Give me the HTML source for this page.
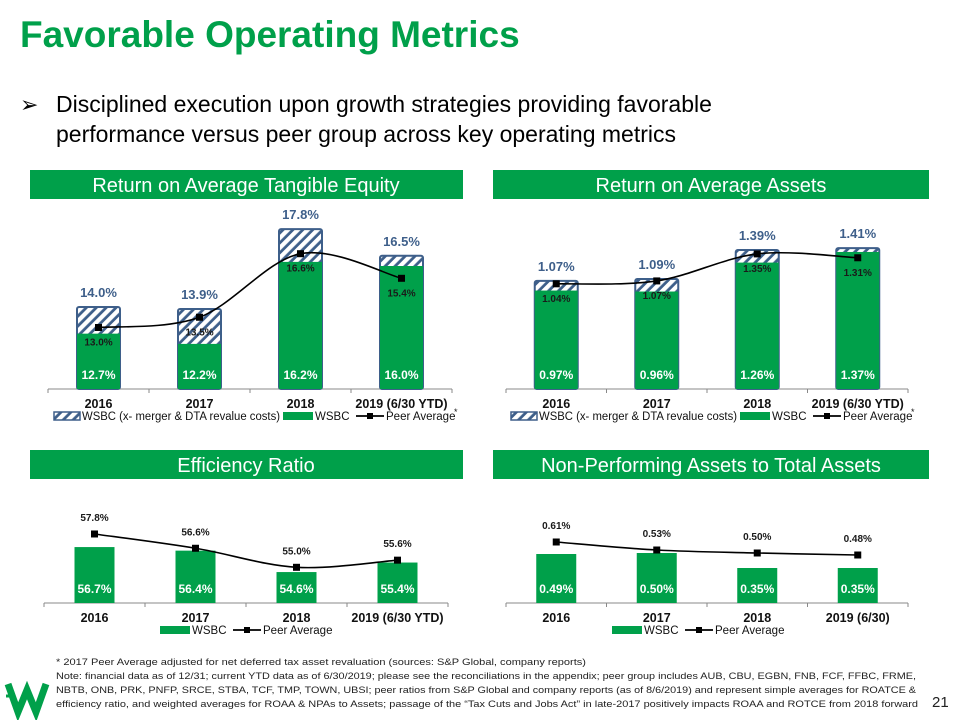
<!DOCTYPE html>
<html><head><meta charset="utf-8">
<style>
body{margin:0;background:#fff;}
#root{position:relative;width:960px;height:720px;overflow:hidden;font-family:"Liberation Sans",Arial,sans-serif;}
</style></head>
<body>
<div id="root">
<svg id="svg" width="960" height="720" xmlns="http://www.w3.org/2000/svg" font-family="Liberation Sans, Arial, sans-serif">
<defs>
<pattern id="hatch" patternUnits="userSpaceOnUse" width="7" height="7" patternTransform="rotate(45)">
<rect width="7" height="7" fill="#3E5F8A"/>
<rect width="4.2" height="7" fill="#fff"/>
</pattern>
</defs>
<text x="20" y="47" font-size="37" font-weight="bold" fill="#00A04A">Favorable Operating Metrics</text>
<text x="20" y="112" font-size="22" fill="#000">➢</text>
<text x="56" y="112" font-size="23" fill="#000">Disciplined execution upon growth strategies providing favorable</text>
<text x="56" y="142" font-size="23" fill="#000">performance versus peer group across key operating metrics</text>

<rect x="30" y="170" width="433" height="29" fill="#00A04A"/>
<text x="246" y="192" font-size="20" fill="#fff" text-anchor="middle">Return on Average Tangible Equity</text>
<rect x="493" y="170" width="436" height="29" fill="#00A04A"/>
<text x="711" y="192" font-size="20" fill="#fff" text-anchor="middle">Return on Average Assets</text>
<rect x="30" y="450" width="433" height="29" fill="#00A04A"/>
<text x="246" y="472" font-size="20" fill="#fff" text-anchor="middle">Efficiency Ratio</text>
<rect x="493" y="450" width="436" height="29" fill="#00A04A"/>
<text x="711" y="472" font-size="20" fill="#fff" text-anchor="middle">Non-Performing Assets to Total Assets</text>

<g id="charts"></g>

<g font-size="9.5" fill="#222">
<text x="56" y="665" textLength="530" lengthAdjust="spacingAndGlyphs">* 2017 Peer Average adjusted for net deferred tax asset revaluation (sources: S&amp;P Global, company reports)</text>
<text x="56" y="679" textLength="860" lengthAdjust="spacingAndGlyphs">Note: financial data as of 12/31; current YTD data as of 6/30/2019; please see the reconciliations in the appendix; peer group includes AUB, CBU, EGBN, FNB, FCF, FFBC, FRME,</text>
<text x="56" y="693" textLength="860" lengthAdjust="spacingAndGlyphs">NBTB, ONB, PRK, PNFP, SRCE, STBA, TCF, TMP, TOWN, UBSI; peer ratios from S&amp;P Global and company reports (as of 8/6/2019) and represent simple averages for ROATCE &amp;</text>
<text x="56" y="707" textLength="862" lengthAdjust="spacingAndGlyphs">efficiency ratio, and weighted averages for ROAA &amp; NPAs to Assets; passage of the “Tax Cuts and Jobs Act” in late-2017 positively impacts ROAA and ROTCE from 2018 forward</text>
</g>
<text x="932" y="707" font-size="15" fill="#222">21</text>
<g>
<polyline points="8,684 18,712 27,690 36,712 46,684" fill="none" stroke="#00A04A" stroke-width="7" stroke-linejoin="miter"/>
<polyline points="6,696 12,696" stroke="#00A04A" stroke-width="3"/>
</g>
</svg>
</div>
<script>
const cats1 = ["2016","2017","2018","2019 (6/30 YTD)"];
const roateAdj = [14.0,13.9,17.8,16.5];
const roateWsbc = [12.7,12.2,16.2,16.0];
const roatePeer = [13.0,13.5,16.6,15.4];
const roaaAdj = [1.07,1.09,1.39,1.41];
const roaaWsbc = [0.97,0.96,1.26,1.37];
const roaaPeer = [1.04,1.07,1.35,1.31];
const effWsbc = [56.7,56.4,54.6,55.4];
const effPeer = [57.8,56.6,55.0,55.6];
const cats4 = ["2016","2017","2018","2019 (6/30)"];
const npaWsbc = [0.49,0.50,0.35,0.35];
const npaPeer = [0.61,0.53,0.50,0.48];

const NS="http://www.w3.org/2000/svg";
const G=document.getElementById('charts');
function mk(tag,attrs,parent,txt){const e=document.createElementNS(NS,tag);for(const k in attrs)e.setAttribute(k,attrs[k]);if(txt!==undefined)e.textContent=txt;(parent||G).appendChild(e);return e;}
function fmt(v,d){return v.toFixed(d)+'%';}
function smooth(pts){let d='M'+pts[0][0]+','+pts[0][1];for(let i=0;i<pts.length-1;i++){const p0=pts[Math.max(i-1,0)],p1=pts[i],p2=pts[i+1],p3=pts[Math.min(i+2,pts.length-1)];const c1=[p1[0]+(p2[0]-p0[0])/6,p1[1]+(p2[1]-p0[1])/6],c2=[p2[0]-(p3[0]-p1[0])/6,p2[1]-(p3[1]-p1[1])/6];d+=' C'+c1+' '+c2+' '+p2;}return d;}

function chart(o){
  const g=mk('g',{});
  
  
  const step=(o.x1-o.x0)/o.cats.length;
  const xc=i=>o.x0+step*(i+0.5);
  const y=v=>o.base-(v-o.vmin)*o.k;
  const ax=mk('line',{x1:o.x0,x2:o.x1,y1:o.base,y2:o.base,stroke:'#888','stroke-width':1},g);
  
  
  for(let i=0;i<=o.cats.length;i++){mk('line',{x1:o.x0+step*i,x2:o.x0+step*i,y1:o.base,y2:o.base+4,stroke:'#888'},g);}
  o.cats.forEach((c,i)=>{const t=mk('text',{x:xc(i),y:o.base+19,'font-size':12.5,'font-weight':'bold','text-anchor':'middle',fill:'#111'},g,c);
    
    });
  const bw=o.bw;
  if(o.adj){o.adj.forEach((v,i)=>{const r=mk('rect',{x:xc(i)-bw/2,y:y(v),width:bw,height:o.base-y(v),fill:'url(#hatch)',stroke:'#3E5F8A','stroke-width':2,rx:2},g);
    
    
    const t=mk('text',{x:xc(i),y:y(v)-10,'font-size':13,'font-weight':'bold','text-anchor':'middle',fill:'#3E5F8A'},g,fmt(v,o.dec));
    
    });}
  o.wsbc.forEach((v,i)=>{const r=mk('rect',{x:xc(i)-bw/2,y:y(v),width:bw,height:o.base-y(v),fill:'#00A04A'},g);
    
    
    const t=mk('text',{x:xc(i),y:o.base-10,'font-size':12,'font-weight':'bold','text-anchor':'middle',fill:'#fff'},g,fmt(v,o.dec));
    
    });
  const pts=o.peer.map((v,i)=>[xc(i),y(v)]);
  const ln=mk('path',{d:smooth(pts),fill:'none',stroke:'#000','stroke-width':1.6},g);
  
  
  o.peer.forEach((v,i)=>{const m=mk('rect',{x:pts[i][0]-3.5,y:pts[i][1]-3.5,width:7,height:7,fill:'#000'},g);
    
    
    const ly=o.peerAbove?pts[i][1]-13:pts[i][1]+18;
    const t=mk('text',{x:xc(i),y:ly,'font-size':10,'font-weight':'bold','text-anchor':'middle',fill:'#1a1a1a'},g,fmt(v,o.dec));
    
    });
  const lg=mk('g',{'font-size':11.5,fill:'#111'},g);
  
  
  let lx=o.legX, ly=o.base+31;
  if(o.adj){mk('rect',{x:lx,y:ly-8,width:26,height:8,fill:'url(#hatch)',stroke:'#3E5F8A','stroke-width':1.5},lg);
    mk('text',{x:lx+28,y:ly,textLength:198,lengthAdjust:'spacingAndGlyphs'},lg,'WSBC (x- merger & DTA revalue costs)');lx+=o.adjLegW;}
  mk('rect',{x:lx,y:ly-8,width:30,height:8,fill:'#00A04A'},lg);
  mk('text',{x:lx+32,y:ly},lg,'WSBC');lx+=o.wLegW;
  mk('line',{x1:lx,x2:lx+28,y1:ly-4,y2:ly-4,stroke:'#000','stroke-width':1.8},lg);
  mk('rect',{x:lx+11,y:ly-7,width:6,height:6,fill:'#000'},lg);
  mk('text',{x:lx+30,y:ly},lg,'Peer Average');
  if(o.star)mk('text',{x:lx+98,y:ly-5,'font-size':9},lg,'*');
}
chart({name:'roate-chart',cats:cats1,adj:roateAdj,wsbc:roateWsbc,peer:roatePeer,x0:48,x1:452,base:389,vmin:10,k:20.5,bw:43,dec:1,legX:54,adjLegW:229,wLegW:73,star:true});
chart({name:'roaa-chart',cats:cats1,adj:roaaAdj,wsbc:roaaWsbc,peer:roaaPeer,x0:506,x1:908,base:389,vmin:-0.05,k:96.5,bw:43,dec:2,legX:511,adjLegW:229,wLegW:73,star:true});
chart({name:'efficiency-chart',cats:cats1,wsbc:effWsbc,peer:effPeer,x0:44,x1:448,base:603,vmin:52,k:11.9,bw:40,dec:1,peerAbove:true,legX:160,wLegW:73});
chart({name:'npa-chart',cats:cats4,wsbc:npaWsbc,peer:npaPeer,x0:506,x1:908,base:603,vmin:0,k:100,bw:40,dec:2,peerAbove:true,legX:612,wLegW:73});
</script>
</body></html>
